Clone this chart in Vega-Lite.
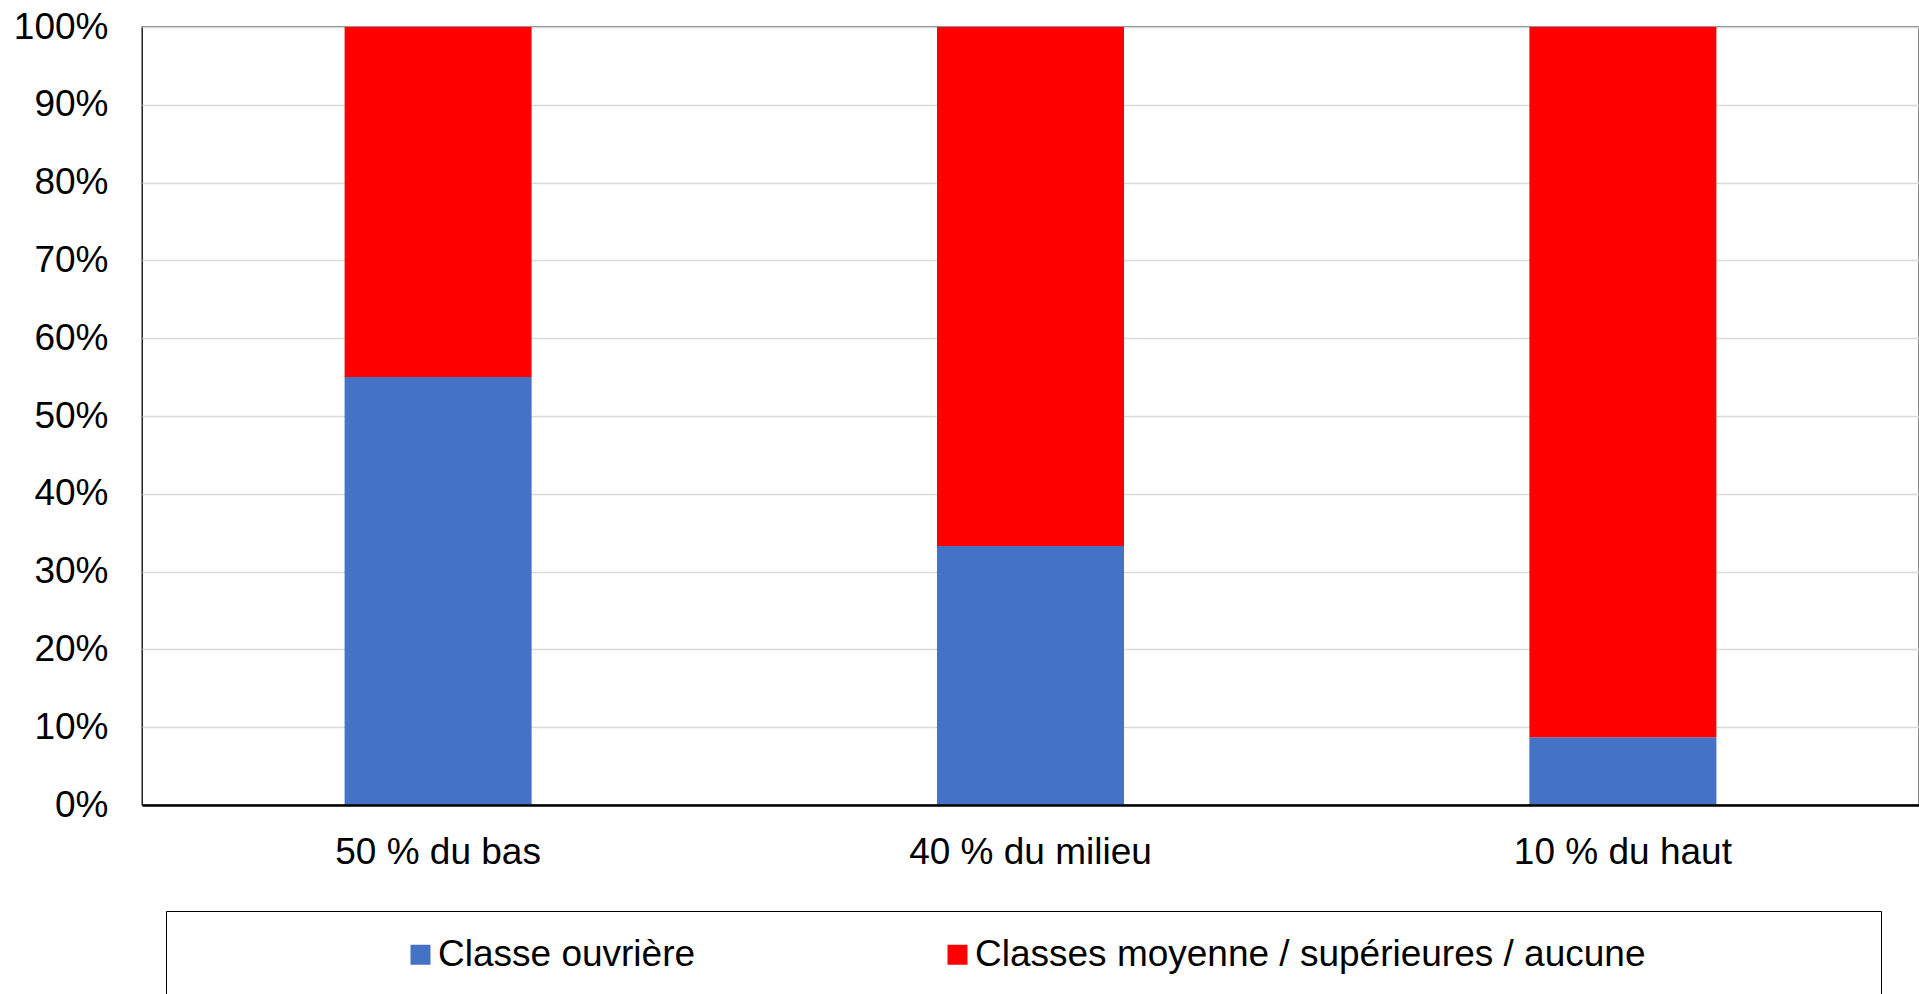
{
  "$schema": "https://vega.github.io/schema/vega-lite/v6.json",
  "width": 1777,
  "height": 778,
  "autosize": {"type": "none"},
  "padding": {"left": 142, "top": 27, "right": 0, "bottom": 189},
  "background": "white",
  "config": {
    "view": {"stroke": "#000000", "strokeWidth": 1.3},
    "font": "Liberation Sans"
  },
  "data": {
    "values": [
      {"groupe": "50 % du bas", "classe": "Classe ouvrière", "part": 0.550},
      {"groupe": "50 % du bas", "classe": "Classes moyenne / supérieures / aucune", "part": 0.450},
      {"groupe": "40 % du milieu", "classe": "Classe ouvrière", "part": 0.333},
      {"groupe": "40 % du milieu", "classe": "Classes moyenne / supérieures / aucune", "part": 0.667},
      {"groupe": "10 % du haut", "classe": "Classe ouvrière", "part": 0.087},
      {"groupe": "10 % du haut", "classe": "Classes moyenne / supérieures / aucune", "part": 0.913}
    ]
  },
  "mark": {"type": "bar"},
  "encoding": {
    "x": {
      "field": "groupe",
      "type": "nominal",
      "sort": null,
      "scale": {"paddingInner": 0.6843, "paddingOuter": 0.342},
      "axis": {
        "title": null,
        "labelAngle": 0,
        "labelFontSize": 37,
        "labelFont": "Liberation Sans",
        "labelColor": "#000000",
        "labelLimit": 1000,
        "labelPadding": 29,
        "ticks": false,
        "domainColor": "#000000",
        "domainWidth": 2.5,
        "grid": false,
        "zindex": 2
      }
    },
    "y": {
      "field": "part",
      "type": "quantitative",
      "stack": "zero",
      "scale": {"domain": [0, 1], "nice": false},
      "axis": {
        "title": null,
        "format": "%",
        "values": [0, 0.1, 0.2, 0.3, 0.4, 0.5, 0.6, 0.7, 0.8, 0.9, 1],
        "labelFontSize": 37,
        "labelFont": "Liberation Sans",
        "labelColor": "#000000",
        "labelPadding": 34,
        "ticks": false,
        "domain": false,
        "gridColor": "#d9d9d9",
        "gridWidth": 1.5
      }
    },
    "color": {
      "field": "classe",
      "type": "nominal",
      "scale": {
        "domain": ["Classe ouvrière", "Classes moyenne / supérieures / aucune"],
        "range": ["#4472C4", "#FF0000"]
      },
      "legend": {
        "orient": "none",
        "legendX": 24,
        "legendY": 884,
        "direction": "horizontal",
        "columns": 2,
        "title": " ",
        "titleOrient": "right",
        "titlePadding": 211,
        "symbolType": "square",
        "symbolSize": 400,
        "symbolStrokeWidth": 0,
        "labelFontSize": 37,
        "labelFont": "Liberation Sans",
        "labelColor": "#000000",
        "labelLimit": 1200,
        "padding": 25,
        "strokeColor": "#000000",
        "symbolOffset": 211,
        "labelOffset": -1,
        "columnPadding": 32
      }
    },
    "order": {"field": "classe", "sort": "ascending"}
  }
}
